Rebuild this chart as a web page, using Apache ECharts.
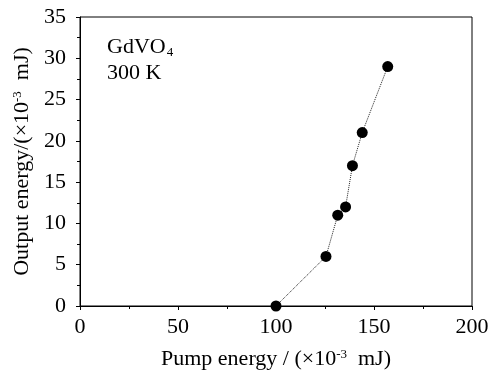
<!DOCTYPE html>
<html>
<head>
<meta charset="utf-8">
<script src="https://cdn.jsdelivr.net/npm/echarts@6/dist/echarts.min.js"></script>
<style>
  html, body { margin: 0; padding: 0; background: #fff; }
  #main { width: 491px; height: 372px; }
</style>
</head>
<body>
<div id="main"></div>
<script>
// 数据
var pumpEnergy = [100, 125.5, 131.5, 135.5, 139, 144, 157];
var outputEnergy = [0, 6, 11, 12, 17, 21, 29];
var xTicks = [0, 50, 100, 150, 200];
var yTicks = [0, 5, 10, 15, 20, 25, 30, 35];

var FONT = '"Liberation Serif", "DejaVu Serif", serif';

var points = [];
for (var i = 0; i < pumpEnergy.length; i++) {
    points.push([pumpEnergy[i], outputEnergy[i]]);
}

// 轴标题的上标样式
var nameRich = {
    a: { fontFamily: FONT, fontSize: 22, color: '#000' },
    s: { fontFamily: FONT, fontSize: 13, color: '#000', verticalAlign: 'top', padding: [0, 0, 9, 0] }
};

var myChart = echarts.init(document.getElementById('main'));
var option = {
    animation: false,
    backgroundColor: '#fff',
    grid: {
        left: 80,
        right: 19,
        top: 17,
        bottom: 66,
        outerBoundsMode: 'none',
        containLabel: false,
        show: true,
        borderColor: '#000',
        borderWidth: 1
    },
    xAxis: {
        type: 'value',
        min: xTicks[0],
        max: xTicks[xTicks.length - 1],
        interval: 50,
        name: '{a|Pump energy / (×10}{s|-3}{a|  mJ)}',
        nameLocation: 'middle',
        nameGap: 42,
        nameTextStyle: { rich: nameRich },
        axisLine: { lineStyle: { color: '#000', width: 1 } },
        axisTick: { length: 4, lineStyle: { color: '#000' } },
        minorTick: { show: true, splitNumber: 2, length: 3, lineStyle: { color: '#000' } },
        axisLabel: { fontFamily: FONT, fontSize: 22, color: '#000', margin: 10 },
        splitLine: { show: false }
    },
    yAxis: {
        type: 'value',
        min: yTicks[0],
        max: yTicks[yTicks.length - 1],
        interval: 5,
        name: '{a|Output energy/(×10}{s|-3}{a|  mJ)}',
        nameLocation: 'middle',
        nameGap: 47,
        nameTextStyle: { rich: nameRich },
        axisLine: { lineStyle: { color: '#000', width: 1 } },
        axisTick: { length: 4, lineStyle: { color: '#000' } },
        minorTick: { show: true, splitNumber: 2, length: 3, lineStyle: { color: '#000' } },
        axisLabel: { fontFamily: FONT, fontSize: 22, color: '#000', margin: 14 },
        splitLine: { show: false }
    },
    graphic: [{
        type: 'text',
        left: 107,
        top: 36,
        style: {
            text: '{a|GdVO}{s|4}',
            rich: {
                a: { fontFamily: FONT, fontSize: 22, fill: '#000' },
                s: { fontFamily: FONT, fontSize: 13, fill: '#000', verticalAlign: 'bottom', padding: [12, 0, 0, 1] }
            }
        }
    }, {
        type: 'text',
        left: 107,
        top: 62,
        style: { text: '300 K', fontFamily: FONT, fontSize: 22, fill: '#000' }
    }],
    series: [{
        type: 'line',
        data: points,
        symbol: 'circle',
        symbolSize: 11,
        itemStyle: { color: '#000' },
        lineStyle: { color: '#222', width: 1, type: 'dotted' },
        clip: false
    }]
};
myChart.setOption(option);
</script>
</body>
</html>
